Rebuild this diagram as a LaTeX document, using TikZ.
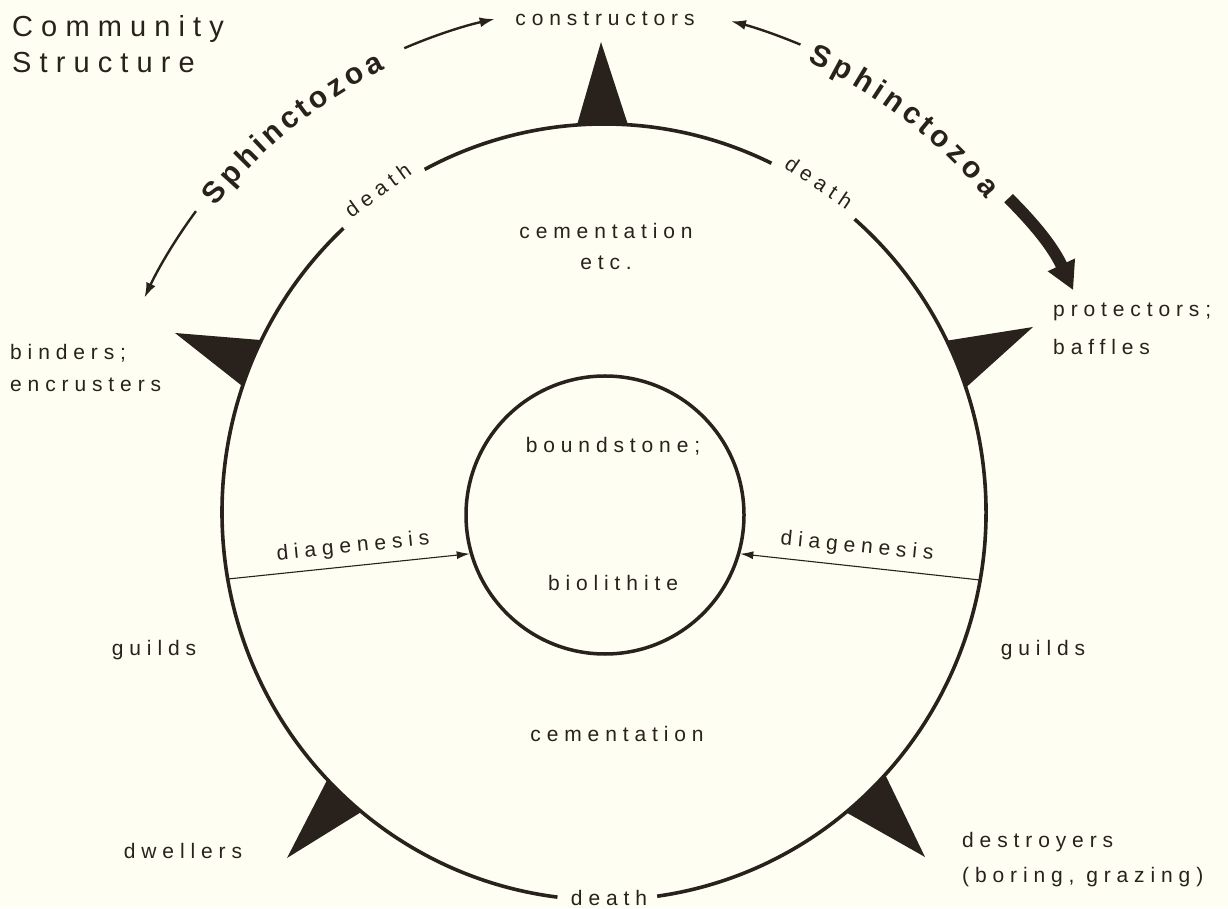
\documentclass[tikz,border=0pt]{standalone}
\usepackage{fontspec}
\newfontfamily\lblfont{Liberation Sans}[LetterSpace=28]
\newfontfamily\sphfont{Liberation Sans}
\usetikzlibrary{arrows.meta,decorations.text}
\definecolor{ink}{RGB}{40,33,28}
\definecolor{paper}{RGB}{255,254,243}
\begin{document}
\begin{tikzpicture}[x=1pt,y=1pt,
  lbl/.style={font=\fontsize{21}{26}\lblfont, text=ink, inner sep=0pt},
  ttl/.style={font=\fontsize{29}{34}\lblfont, text=ink, inner sep=0pt},
  ring/.style={draw=ink, line width=3.6pt},
  curarr/.style={draw=ink, line width=2.4pt, -{Latex[length=15pt,width=10pt]}},
  thinarr/.style={draw=ink, line width=1.1pt, -{Latex[length=13pt,width=8pt]}},
  thickarr/.style={draw=ink, line width=12pt, -{Triangle[length=28pt,width=28pt]}},
  spike/.style={fill=ink},
  sph/.style={decorate, decoration={text effects along path, text={Sphinctozoa},
     text effects/.cd, text along path, fit text to path,
     characters={font=\fontsize{30}{33}\sphfont\bfseries, text=ink, inner sep=0pt}}}
]
\fill[paper] (0,0) rectangle (1228,908);
\useasboundingbox (0,0) rectangle (1228,908);

% inner circle
\node[draw=ink, line width=3.5pt, circle, minimum size=278pt, inner sep=0pt] (inner) at (605,393) {};

\begin{scope}[shift={(604,396)}]
  % outer ring with gaps for "death"
  \draw[ring] (64:382pt and 388pt) arc[start angle=64, end angle=118, x radius=382pt, y radius=388pt];
  \draw[ring] (133:382pt and 388pt) arc[start angle=133, end angle=263, x radius=382pt, y radius=388pt];
  \draw[ring] (278:382pt and 388pt) arc[start angle=278, end angle=409, x radius=382pt, y radius=388pt];
  % spikes
  \fill[spike] (86.4:382pt and 388pt) -- (-3,470) -- (94.05:382pt and 388pt) -- cycle;
  \fill[spike] (18.7:382pt and 388pt) -- (429,185) -- (26.2:382pt and 388pt) -- cycle;
  \fill[spike] (153.7:382pt and 388pt) -- (-429,179) -- (161.1:382pt and 388pt) -- cycle;
  \fill[spike] (223.6:382pt and 388pt) -- (-317,-346) -- (230.6:382pt and 388pt) -- cycle;
  \fill[spike] (309.3:382pt and 388pt) -- (321,-345) -- (317.4:382pt and 388pt) -- cycle;
  % Sphinctozoa texts
  \path[sph] (141.8:494pt) arc[start angle=141.8, end angle=116.3, radius=494pt];
  \path[sph] (65.7:494pt) arc[start angle=65.7, end angle=39.3, radius=494pt];
  % arrow ends
  \coordinate (la1) at (113.3:505pt);
  \coordinate (lb1) at (143.6:507pt);
  \coordinate (ra1) at (67.2:507pt);
  \coordinate (rb1) at (37.8:512pt);
  \coordinate (rb2) at (25.3:519pt);
  % top death labels
  \node[lbl, anchor=base, rotate=36] (deathl) at (125.5:382pt and 388pt) {death};
  \node[lbl, anchor=base, rotate=-34] (deathr) at (56.5:382pt and 388pt) {death};
\end{scope}

% curved arrows
\draw[curarr] (la1) arc[start angle=113.3, end angle=102.5, radius=505pt];
\draw[curarr] (lb1) arc[start angle=143.6, end angle=155, radius=507pt];
\draw[curarr] (ra1) arc[start angle=67.2, end angle=75.5, radius=507pt];
\draw[thickarr] (rb1) to[bend left=10] (rb2);

% diagenesis
\coordinate (dl) at (228,329);
\coordinate (dr) at (980,328);
\draw[thinarr] (dl) -- (inner.196);
\draw[thinarr] (dr) -- (inner.344);
\node[lbl, rotate=5.7] (diagl) at (353,361) {diagenesis};
\node[lbl, rotate=-5.7] (diagr) at (857,361) {diagenesis};

% labels
\node[ttl, anchor=base west] (comm) at (12,871) {Community};
\node[ttl, anchor=base west] (struct) at (12,835) {Structure};
\node[lbl, anchor=base] (constr) at (605,882) {constructors};
\node[lbl, anchor=base west] (bind) at (10,548) {binders;};
\node[lbl, anchor=base west] (encr) at (10,516) {encrusters};
\node[lbl, anchor=base west] (prot) at (1053,591) {protectors;};
\node[lbl, anchor=base west] (baff) at (1053,553) {baffles};
\node[lbl, anchor=base] (cem1) at (606,669) {cementation};
\node[lbl, anchor=base] (etc) at (606,638) {etc.};
\node[lbl, anchor=base] (bound) at (613,455) {boundstone;};
\node[lbl, anchor=base] (bio) at (613,317) {biolithite};
\node[lbl, anchor=base] (guildl) at (154,252) {guilds};
\node[lbl, anchor=base] (guildr) at (1043,252) {guilds};
\node[lbl, anchor=base] (cem2) at (617,167) {cementation};
\node[lbl, anchor=base] (dwell) at (183,50) {dwellers};
\node[lbl, anchor=base west] (destr) at (962,61) {destroyers};
\node[lbl, anchor=base west] (bor) at (962,26) {(boring, grazing)};
\node[lbl, anchor=base] (deathb) at (609,3) {death};
\end{tikzpicture}
\end{document}
